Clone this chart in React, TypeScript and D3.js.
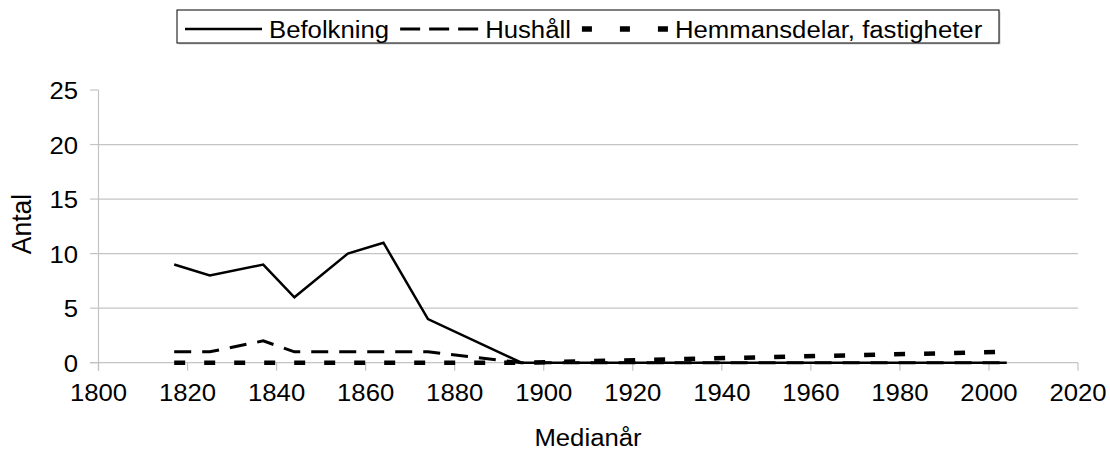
import React from "react";
import * as d3 from "d3";

const years = [1817, 1825, 1837, 1844, 1856, 1864, 1874, 1895, 2004];
const befolkning = [9, 8, 9, 6, 10, 11, 4, 0, 0];
const hushall = [1, 1, 2, 1, 1, 1, 1, 0, 0];
const hemmansdelar = [0, 0, 0, 0, 0, 0, 0, 0, 1];
const xTicks = [1800, 1820, 1840, 1860, 1880, 1900, 1920, 1940, 1960, 1980, 2000, 2020];
const yTicks = [0, 5, 10, 15, 20, 25];
const seriesNames = ["Befolkning", "Hushåll", "Hemmansdelar, fastigheter"];

const W = 1110;
const H = 452;
const FONT = "'Liberation Sans', Arial, sans-serif";
const FS = 24.5;
const SX = 1.05;
const GRID = "#c4c4c4";

const styles = [
  { width: 2.5, dash: undefined as string | undefined, legendDash: undefined as string | undefined, sampleLen: 77 },
  { width: 3, dash: "17 11", legendDash: "20 9", sampleLen: 78 },
  { width: 4.5, dash: "11 19", legendDash: "10 28", sampleLen: 86 },
];

function textWidth(s: string): number {
  const c = document.createElement("canvas").getContext("2d");
  if (!c) return s.length * 12;
  c.font = `${FS}px 'Liberation Sans', Arial, sans-serif`;
  return c.measureText(s).width * SX;
}

function T(props: { x: number; y: number; anchor?: string; rotate?: number; size?: number; children: React.ReactNode }) {
  const { x, y, anchor = "start", rotate = 0, size = FS, children } = props;
  return (
    <text
      transform={`translate(${x},${y}) scale(${SX},1)${rotate ? ` rotate(${rotate})` : ""}`}
      textAnchor={anchor}
      fontFamily={FONT}
      fontSize={size}
      fill="#000"
    >
      {children}
    </text>
  );
}

export default function App() {
  const x = d3.scaleLinear().domain([1800, 2020]).range([98.5, 1078]);
  const y = d3.scaleLinear().domain([0, 25]).range([362.7, 90]);
  const line = d3
    .line<number>()
    .x((_, i) => x(years[i]))
    .y((d) => y(d));
  const data = [befolkning, hushall, hemmansdelar];

  let lx = 185;
  const legendItems = seriesNames.map((name, i) => {
    const s = styles[i];
    const x0 = lx;
    const x1 = x0 + s.sampleLen;
    const tx = x1 + 7;
    const tw = textWidth(name);
    lx = tx + tw + 11;
    return { name, x0, x1, tx, s };
  });

  return (
    <svg width={W} height={H} style={{ position: "absolute", left: 0, top: 0 }}>
      <rect width={W} height={H} fill="#fff" />
      {yTicks
        .filter((t) => t > 0 && t < 25)
        .map((t) => (
          <line key={"g" + t} x1={x(1800)} x2={x(2020)} y1={y(t)} y2={y(t)} stroke={GRID} strokeWidth={1.2} />
        ))}
      <line x1={x(1800)} x2={x(1800)} y1={y(25)} y2={y(0) + 8} stroke={GRID} strokeWidth={1.2} />
      {yTicks.map((t) => (
        <g key={"y" + t}>
          <line x1={x(1800) - 8.5} x2={x(1800)} y1={y(t)} y2={y(t)} stroke={GRID} strokeWidth={1.2} />
          <T x={78} y={y(t) + 9} anchor="end">
            {t}
          </T>
        </g>
      ))}
      <line x1={x(1800) - 8.5} x2={x(2020)} y1={y(0)} y2={y(0)} stroke={GRID} strokeWidth={1.2} />
      {xTicks.map((t) => (
        <g key={"x" + t}>
          <line x1={x(t)} x2={x(t)} y1={y(0)} y2={y(0) + 8} stroke={GRID} strokeWidth={1.2} />
          <T x={x(t)} y={401} anchor="middle">
            {t}
          </T>
        </g>
      ))}
      <T x={588} y={446} anchor="middle">
        Medianår
      </T>
      <T x={31} y={224} anchor="middle" rotate={-90} size={26.5}>
        Antal
      </T>
      {[2, 1, 0].map((i) => (
        <path
          key={"s" + i}
          d={line(data[i]) || ""}
          fill="none"
          stroke="#000"
          strokeWidth={styles[i].width}
          strokeDasharray={styles[i].dash}
          strokeLinejoin="miter"
        />
      ))}
      <rect x={178.5} y={11.5} width={822} height={33} fill="#d0d0d0" />
      <rect x={177} y={10} width={822} height={33} fill="#fff" stroke="#000" strokeWidth={1} />
      {legendItems.map((it, i) => (
        <g key={"l" + i}>
          <line
            x1={it.x0}
            x2={it.x1}
            y1={29}
            y2={29}
            stroke="#000"
            strokeWidth={i === 2 ? 5.5 : it.s.width}
            strokeDasharray={it.s.legendDash}
          />
          <T x={it.tx} y={37.5}>
            {it.name}
          </T>
        </g>
      ))}
    </svg>
  );
}
